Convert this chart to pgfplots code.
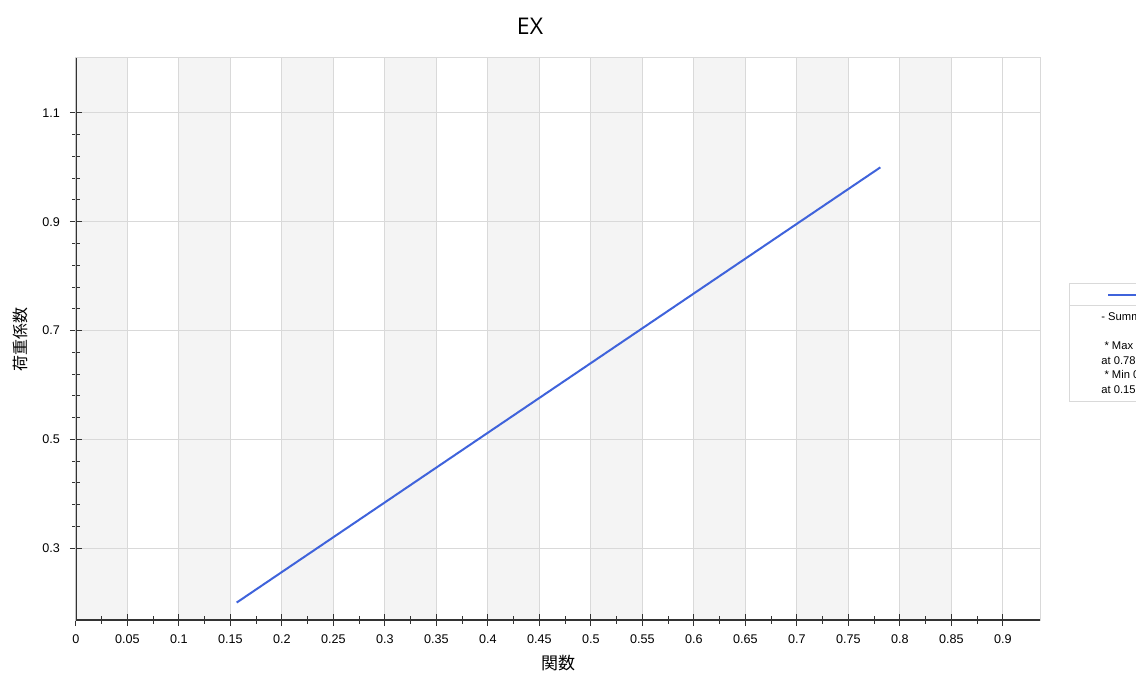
\documentclass[border=0pt]{standalone}
\usepackage{fontspec}
\setmainfont{Liberation Sans}
\newfontfamily\jp{Noto Sans CJK JP}
\newfontfamily\titlefont{Open Sans}
\usepackage{pgfplots}
\pgfplotsset{compat=1.18}

\definecolor{band}{HTML}{F4F4F4}
\definecolor{gridc}{HTML}{D9D9D9}
\definecolor{axisc}{HTML}{333333}
\definecolor{lineblue}{HTML}{3F63DB}

\begin{document}
\begin{tikzpicture}
\begin{axis}[
  set layers,
  at={(0,0)}, anchor=south west,
  scale only axis,
  width=482pt, height=281pt,
  xmin=0, xmax=0.936,
  ymin=0.168, ymax=1.201,
  xtick={0,0.05,...,0.9},
  ytick={0.3,0.5,0.7,0.9,1.1},
  minor x tick num=1,
  minor y tick num=4,
  extra x ticks={0.936},
  extra x tick labels={},
  extra x tick style={grid=major, major tick length=0pt},
  xtick pos=bottom, ytick pos=left,
  tick align=center,
  major tick length=6pt,
  minor tick length=3.5pt,
  every tick/.style={axisc, line width=0.5pt},
  grid=major,
  major grid style={gridc, line width=0.5pt},
  axis line style={gridc, line width=0.5pt},
  /pgf/number format/.cd, fixed, precision=2, assume math mode=true,
  /pgfplots/.cd,
  tick label style={font=\fontsize{6.3}{7}\selectfont, black},
  xticklabel style={yshift=-1pt},
  yticklabel style={xshift=-1.5pt},
]
% alternating vertical bands, as one comb-shaped area
\addplot[on layer=axis background, fill=band, draw=none, forget plot]
  coordinates {(0,0.168) (0,1.201) (0.05,1.201) (0.05,0.168)
               (0.1,0.168) (0.1,1.201) (0.15,1.201) (0.15,0.168)
               (0.2,0.168) (0.2,1.201) (0.25,1.201) (0.25,0.168)
               (0.3,0.168) (0.3,1.201) (0.35,1.201) (0.35,0.168)
               (0.4,0.168) (0.4,1.201) (0.45,1.201) (0.45,0.168)
               (0.5,0.168) (0.5,1.201) (0.55,1.201) (0.55,0.168)
               (0.6,0.168) (0.6,1.201) (0.65,1.201) (0.65,0.168)
               (0.7,0.168) (0.7,1.201) (0.75,1.201) (0.75,0.168)
               (0.8,0.168) (0.8,1.201) (0.85,1.201) (0.85,0.168)} -- cycle;
\addplot[lineblue, line width=1pt] coordinates {(0.156,0.2) (0.781,1.0)};
\draw[axisc, line width=0.6pt] (rel axis cs:0,1) -- (rel axis cs:0,0) -- (rel axis cs:1,0);
\end{axis}

% titles
\node[font=\titlefont\fontsize{11.5}{13}\selectfont] at (227pt,297pt) {EX};
\node[font=\jp\fontsize{8.5}{10}\selectfont] at (241pt,-21.5pt) {関数};
\node[font=\jp\fontsize{8}{10}\selectfont, rotate=90] at (-28pt,140pt) {荷重係数};

% legend (cut off by the picture edge, as in the reference)
\draw[gridc, line width=0.5pt, fill=white] (496.5pt,109pt) rectangle (560pt,168pt);
\draw[gridc, line width=0.5pt] (496.5pt,157pt) -- (560pt,157pt);
\draw[lineblue, line width=1pt] (516pt,162.5pt) -- (540pt,162.5pt);
\node[anchor=north west, align=left, inner sep=0pt,
      font=\fontsize{5.6}{7.3}\selectfont] at (512.5pt,154pt)
  {- Summary -\\ \\ \ * Max 1.0\\ at 0.781\\ \ * Min 0.2\\ at 0.156};

\pgfresetboundingbox
\path (-38pt,-35.5pt) rectangle (530pt,310pt);
\end{tikzpicture}
\end{document}
